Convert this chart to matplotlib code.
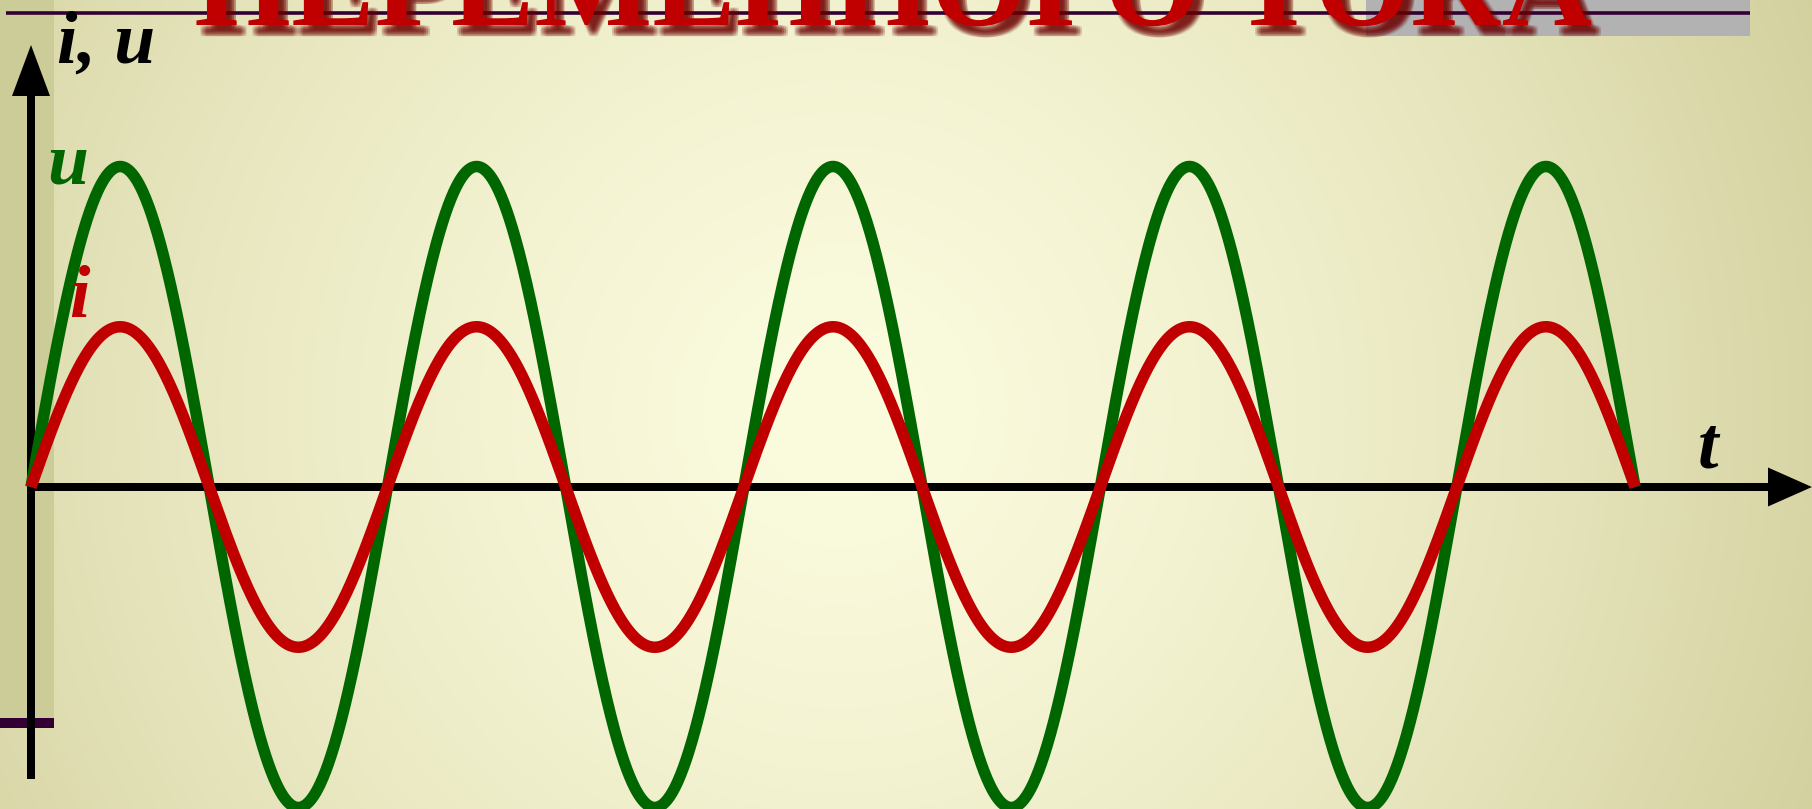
import numpy as np
import matplotlib
matplotlib.use("Agg")
import matplotlib.pyplot as plt
from matplotlib import patheffects as pe
from matplotlib.patches import Polygon, Rectangle

# Signal parameters
n_periods = 4.5          # number of periods shown along t
u_amplitude = 2.0        # voltage amplitude
i_amplitude = 1.0        # current amplitude (in phase with voltage)

# Texts
title_text = "ПЕРЕМЕННОГО ТОКА"
axis_label = "i, u"
u_label = "u"
i_label = "i"
t_label = "t"

W, H, DPI = 1812, 809, 100
fig = plt.figure(figsize=(W / DPI, H / DPI), dpi=DPI)

# ---------- slide background (pixel coordinates) ----------
bg = fig.add_axes([0, 0, 1, 1])
bg.set_xlim(0, W)
bg.set_ylim(H, 0)
bg.axis("off")

yy, xx = np.mgrid[0:H, 0:W]
r = np.hypot((xx - 840) / 1000.0, (yy - 410) / 1000.0)
r = np.clip(r, 0, 1.2) ** 1.5
c_center = np.array([251, 251, 222]) / 255.0
c_edge = np.array([214, 212, 163]) / 255.0
img = c_center + (c_edge - c_center) * r[..., None]
bg.imshow(np.clip(img, 0, 1), extent=(0, W, H, 0), aspect="auto",
          interpolation="bilinear", zorder=0)

# left band and its marker
bg.add_patch(Rectangle((0, 0), 54, 718, color="#cccc99", lw=0, zorder=1))
bg.add_patch(Rectangle((0, 718), 54, 10, color="#330033", lw=0, zorder=2))

# grey block and rule at the top
bg.add_patch(Rectangle((1366, 0), 384, 36, color="#b2b2b2", lw=0, zorder=1))
bg.plot([6, 1750], [13, 13], color="#330033", lw=2.6, solid_capstyle="butt", zorder=2)

# title with soft shadow
shadow = []
for dx in (-2, -0.7, 0.7, 2):
    for dy in (-2, -0.7, 0.7, 2):
        shadow.append(pe.SimplePatchShadow(offset=(5 + dx, -6 + dy),
                                           shadow_rgbFace="#6e0000", alpha=0.11))
shadow.append(pe.Normal())
bg.text(194, 25, title_text, fontsize=90, fontweight="bold",
        family=["Liberation Serif", "DejaVu Serif"], color="#c00000",
        ha="left", va="baseline", zorder=3, path_effects=shadow)

# ---------- diagram (data coordinates) ----------
x0_px, x1_px = 31, 1635       # t = 0 and t = n_periods
y0_px, ypk_px = 487, 166.5    # value 0 and value u_amplitude
sx = (x1_px - x0_px) / n_periods
sy = (y0_px - ypk_px) / u_amplitude

ax = fig.add_axes([0, 0, 1, 1])
ax.set_xlim(-x0_px / sx, (W - x0_px) / sx)
ax.set_ylim(-(H - y0_px) / sy, y0_px / sy)
ax.axis("off")
ax.patch.set_alpha(0)

px_x = 1.0 / sx   # one pixel in t units
px_y = 1.0 / sy   # one pixel in value units

axis_lw = 8 * 72 / DPI
# vertical axis with arrow
ax.plot([0, 0], [-(779 - y0_px) * px_y, 2.5], color="black", lw=axis_lw,
        solid_capstyle="butt", zorder=4)
ax.add_patch(Polygon([(-19 * px_x, (y0_px - 96) * px_y),
                      (19 * px_x, (y0_px - 96) * px_y),
                      (0, (y0_px - 45) * px_y)], closed=True,
                     color="black", lw=0, zorder=4))
# horizontal axis with arrow
t_tip = (W - x0_px) / sx
t_base = t_tip - 44 * px_x
ax.plot([4 * px_x, t_base + 2 * px_x], [0, 0], color="black", lw=axis_lw,
        solid_capstyle="butt", zorder=4)
ax.add_patch(Polygon([(t_base, 19.5 * px_y), (t_base, -19.5 * px_y), (t_tip, 0)],
                     closed=True, color="black", lw=0, zorder=4))

# waveforms
t = np.linspace(0, n_periods, 3000)
u = u_amplitude * np.sin(2 * np.pi * t)
i = i_amplitude * np.sin(2 * np.pi * t)
curve_lw = 11.5 * 72 / DPI
ax.plot(t, u, color="#006600", lw=curve_lw, solid_capstyle="butt", zorder=5)
ax.plot(t, i, color="#c00000", lw=curve_lw, solid_capstyle="butt", zorder=6)

# labels
lab_font = dict(family=["Liberation Serif", "DejaVu Serif"], fontweight="bold",
                style="italic", fontsize=53, va="baseline", ha="left", zorder=7)
ax.text(57 * px_x - x0_px * px_x, (y0_px - 63) * px_y, axis_label, color="black", **lab_font)
ax.text(47 * px_x - x0_px * px_x, (y0_px - 183) * px_y, u_label, color="#006600", **lab_font)
ax.text(69 * px_x - x0_px * px_x, (y0_px - 317) * px_y, i_label, color="#c00000", **lab_font)
ax.text(1698 * px_x - x0_px * px_x, (y0_px - 468) * px_y, t_label, color="black", **lab_font)

fig.savefig("out.png", dpi=DPI)
